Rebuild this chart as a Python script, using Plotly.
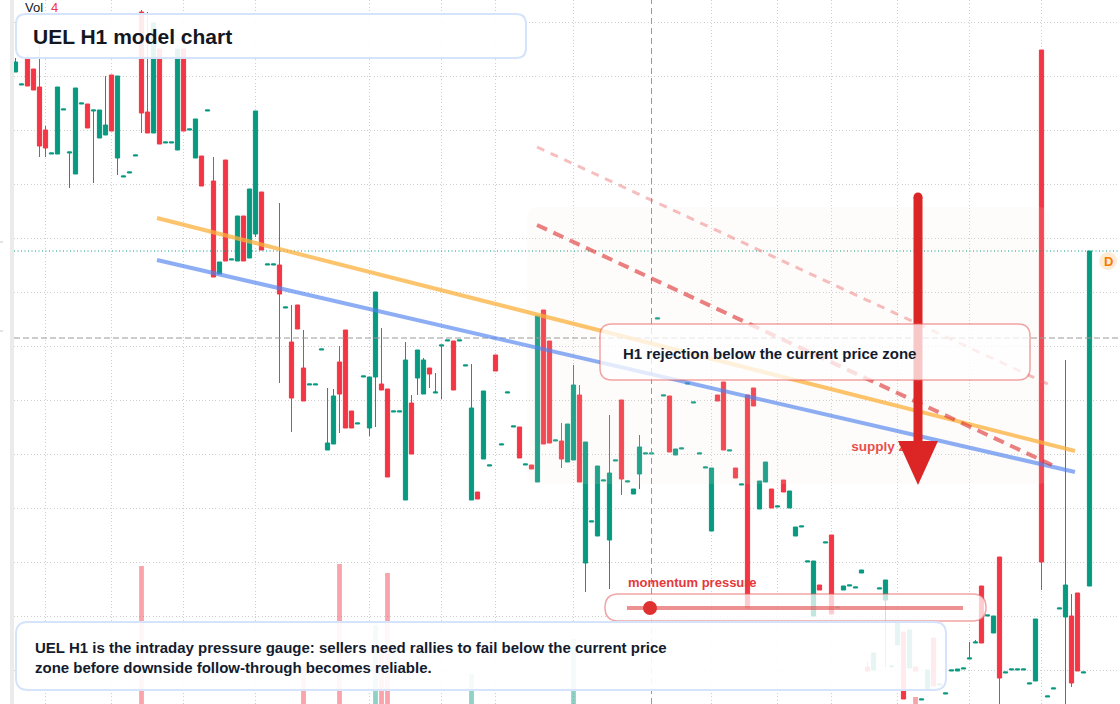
import plotly.graph_objects as go

# ---------------- data ----------------
bar_index = list(range(180))

opens = [
    11.28, 11.15, 11.42, 11.31, 11.13, 10.70, 10.46, 10.46, 10.90, 10.47,
    10.26, 10.96, 10.96, 10.89, 10.62, 10.65, 11.25, 10.42, 10.23, 10.27,
    10.44, 11.88, 10.88, 10.67, 11.51, 10.57, 10.57, 10.50, 11.51, 10.70,
    10.42, 10.44, 10.89, 10.19, 9.26, 10.40, 9.40, 9.39, 9.84, 9.42,
    9.66, 10.08, 9.35, 9.35, 9.35, 8.92, 8.58, 8.95, 8.32, 8.15,
    8.15, 8.50, 7.50, 7.56, 8.38, 8.70, 7.89, 7.76, 8.23, 7.72,
    8.23, 8.16, 8.11, 7.88, 7.88, 7.00, 7.97, 8.22, 8.06, 8.32,
    8.07, 8.54, 8.59, 8.59, 8.59, 8.34, 7.00, 7.08, 7.41, 7.34,
    8.45, 7.55, 8.07, 7.73, 7.73, 7.35, 7.35, 7.18, 8.90, 8.59,
    7.59, 7.59, 7.38, 7.40, 8.05, 6.37, 6.78, 6.64, 7.19, 6.60,
    7.39, 8.00, 7.18, 7.06, 7.26, 7.46, 7.46, 8.81, 8.04, 8.04,
    7.45, 7.51, 8.16, 7.97, 7.46, 7.32, 6.69, 8.05, 8.18, 7.49,
    7.32, 7.15, 8.05, 8.12, 6.91, 7.18, 7.11, 6.93, 7.20, 6.92,
    6.64, 6.73, 6.38, 5.84, 6.15, 6.57, 6.65, 5.92, 6.10, 6.14,
    6.12, 6.27, 5.33, 5.30, 6.11, 6.00, 5.33, 5.55, 5.68, 5.32,
    5.33, 5.00, 5.10, 5.62, 5.15, 5.06, 5.29, 5.29, 5.31, 5.41,
    5.57, 6.14, 5.84, 5.67, 6.43, 5.27, 5.30, 5.30, 5.30, 5.16,
    5.19, 11.50, 5.03, 5.11, 5.91, 5.83, 5.84, 6.07, 5.27, 6.14,
]
highs = [
    11.42, 11.16, 11.45, 11.31, 11.58, 10.74, 10.47, 11.13, 10.91, 10.48,
    11.12, 10.97, 10.96, 10.90, 10.90, 11.24, 11.25, 11.24, 10.24, 10.28,
    10.45, 11.90, 11.88, 11.77, 11.51, 10.58, 10.58, 11.51, 11.51, 10.71,
    10.81, 10.44, 10.90, 10.43, 9.38, 10.40, 9.41, 9.84, 9.84, 10.11,
    10.89, 10.08, 9.36, 9.36, 9.97, 8.93, 8.95, 8.95, 8.70, 8.16,
    8.16, 8.51, 8.12, 8.11, 8.54, 8.70, 7.89, 7.77, 8.24, 8.23,
    9.08, 8.72, 8.11, 7.89, 7.89, 8.58, 8.05, 8.50, 8.42, 8.32,
    8.27, 8.55, 8.60, 8.59, 8.60, 8.35, 8.36, 7.08, 8.09, 7.35,
    8.45, 7.56, 8.08, 7.74, 7.73, 7.36, 7.35, 8.84, 8.90, 8.59,
    7.60, 7.77, 7.76, 8.35, 8.15, 7.58, 6.79, 7.34, 7.20, 7.85,
    7.40, 8.00, 7.19, 7.11, 7.65, 7.47, 7.47, 8.82, 8.05, 8.04,
    7.51, 7.52, 8.17, 7.98, 7.47, 7.33, 7.32, 8.05, 8.18, 7.50,
    7.32, 7.16, 8.05, 8.12, 7.19, 7.38, 7.11, 6.94, 7.20, 7.09,
    6.73, 6.74, 6.39, 6.39, 6.15, 6.58, 6.65, 5.93, 6.14, 6.15,
    6.13, 6.30, 5.38, 5.47, 6.12, 6.20, 5.34, 5.77, 5.68, 5.70,
    5.33, 5.01, 5.30, 5.62, 5.16, 5.07, 5.30, 5.31, 5.32, 5.58,
    5.60, 6.14, 5.85, 5.84, 6.43, 5.28, 5.31, 5.31, 5.31, 5.17,
    5.81, 11.50, 5.04, 5.12, 5.92, 8.40, 6.06, 6.07, 5.28, 9.49,
]
lows = [
    11.28, 11.15, 11.14, 11.10, 10.43, 10.43, 10.46, 10.46, 10.90, 10.12,
    10.26, 10.96, 10.72, 10.17, 10.62, 10.65, 10.69, 10.25, 10.23, 10.27,
    10.44, 10.67, 10.67, 10.67, 10.56, 10.57, 10.57, 10.50, 10.69, 10.70,
    10.42, 10.14, 10.89, 9.23, 9.26, 9.39, 9.40, 9.39, 9.39, 9.42,
    9.63, 9.50, 9.35, 9.35, 8.17, 8.92, 7.68, 8.71, 7.99, 8.15,
    8.15, 8.50, 7.50, 7.56, 7.67, 7.72, 7.72, 7.76, 8.23, 7.64,
    7.73, 8.10, 7.23, 7.88, 7.88, 7.00, 7.46, 8.05, 8.06, 8.12,
    8.07, 8.01, 8.59, 8.10, 8.59, 8.34, 7.00, 7.01, 7.41, 7.34,
    8.29, 7.55, 8.07, 7.73, 7.42, 7.35, 7.31, 7.18, 7.56, 7.57,
    7.59, 7.32, 7.38, 7.40, 7.18, 6.08, 6.78, 6.64, 7.19, 6.11,
    7.39, 7.05, 7.18, 7.06, 7.11, 7.46, 7.46, 8.81, 8.04, 7.48,
    7.45, 7.51, 8.16, 7.97, 7.46, 7.32, 6.69, 7.99, 7.50, 7.49,
    7.22, 7.15, 5.92, 7.94, 6.91, 7.18, 6.92, 6.93, 7.08, 6.92,
    6.64, 6.73, 6.38, 5.84, 6.10, 6.57, 5.86, 5.92, 6.10, 6.14,
    6.12, 6.27, 5.29, 5.30, 6.11, 5.33, 5.33, 5.55, 5.01, 5.32,
    5.29, 5.00, 5.10, 5.14, 5.15, 5.06, 5.29, 5.29, 5.31, 5.41,
    5.57, 5.57, 5.84, 5.67, 4.96, 5.27, 5.30, 5.30, 5.30, 5.16,
    5.19, 6.10, 5.03, 5.11, 5.91, 4.96, 5.13, 5.29, 5.27, 6.14,
]
closes = [
    11.38, 11.16, 11.14, 11.10, 10.54, 10.52, 10.47, 11.13, 10.91, 10.48,
    11.12, 10.97, 10.72, 10.90, 10.90, 10.75, 10.69, 11.24, 10.24, 10.28,
    10.45, 10.87, 10.67, 11.77, 10.56, 10.58, 10.58, 11.51, 10.69, 10.71,
    10.81, 10.14, 10.90, 9.23, 9.38, 9.39, 9.41, 9.84, 9.39, 10.11,
    10.89, 9.50, 9.36, 9.36, 9.06, 8.93, 8.02, 8.71, 7.99, 8.16,
    8.16, 8.51, 7.57, 8.04, 8.06, 7.72, 7.72, 7.77, 8.24, 8.23,
    9.08, 8.10, 7.23, 7.89, 7.89, 8.40, 7.46, 8.50, 8.40, 8.26,
    8.08, 8.55, 8.60, 8.10, 8.60, 8.35, 7.92, 7.01, 8.09, 7.35,
    8.29, 7.56, 8.08, 7.74, 7.42, 7.36, 7.31, 8.84, 7.56, 7.57,
    7.60, 7.41, 7.76, 8.15, 7.18, 7.58, 6.79, 7.34, 7.20, 7.27,
    7.40, 7.21, 7.19, 7.11, 7.53, 7.47, 7.47, 8.82, 8.05, 7.48,
    7.51, 7.52, 8.17, 7.98, 7.47, 7.33, 7.32, 7.99, 7.50, 7.50,
    7.22, 7.16, 5.92, 7.94, 7.19, 7.38, 6.92, 6.94, 7.08, 7.09,
    6.73, 6.74, 6.39, 6.39, 6.10, 6.58, 5.86, 5.93, 6.14, 6.15,
    6.13, 6.30, 5.29, 5.47, 6.12, 6.20, 5.34, 5.77, 5.01, 5.70,
    5.29, 5.01, 5.30, 5.14, 5.16, 5.07, 5.30, 5.31, 5.32, 5.42,
    5.58, 5.57, 5.85, 5.84, 5.22, 5.28, 5.31, 5.31, 5.31, 5.17,
    5.81, 6.38, 5.04, 5.12, 5.92, 6.15, 5.17, 5.29, 5.28, 9.49,
]

volume_bars = [21, 48, 54, 60, 61, 62, 76, 93, 150]
volume_k = [138, 40, 140, 79, 50, 131, 30, 65, 7]

session_starts = [5, 16, 28, 40, 59, 71, 80, 93, 116, 127, 136, 147, 159, 171]

last_price = 9.49
crosshair_bar = 106
crosshair_price = 8.62

orange_trend = [(23.58, 9.82), (176.58, 7.49)]
blue_trend = [(23.58, 9.40), (176.58, 7.28)]
upper_dash = [(86.92, 10.53), (172.75, 8.14)]
lower_dash = [(86.92, 9.75), (172.75, 7.35)]
supply_zone = dict(x0=85.25, x1=172.42, top=9.93, bottom=7.16)

# ---------------- styling ----------------
GREEN = "#089981"
RED = "#f23645"
FONT = "Liberation Sans, Arial, sans-serif"
INK = "#131c2e"
W, H = 1120, 704
LM = 14
PW = W - LM


def px(x):
    return (x - LM) / PW


def py(y):
    return 1 - y / H


def rounded(x0, x1, ytop, ybot, rx, ry):
    return (f"M {x0+rx},{ytop} L {x1-rx},{ytop} Q {x1},{ytop} {x1},{ytop-ry} "
            f"L {x1},{ybot+ry} Q {x1},{ybot} {x1-rx},{ybot} L {x0+rx},{ybot} "
            f"Q {x0},{ybot} {x0},{ybot+ry} L {x0},{ytop-ry} Q {x0},{ytop} {x0+rx},{ytop} Z")


def box_px(x0, y0, x1, y1, r):
    return rounded(px(x0), px(x1), py(y0), py(y1), r / PW, r / H)


fig = go.Figure()

vol_colors = []
for b in volume_bars:
    up = closes[b] >= opens[b]
    vol_colors.append("rgba(8,153,129,0.45)" if up else "rgba(242,54,69,0.45)")

fig.add_trace(go.Bar(x=volume_bars, y=volume_k, yaxis="y2", width=0.8,
                     marker=dict(color=vol_colors, line=dict(width=0)),
                     hoverinfo="skip", showlegend=False))

fig.add_trace(go.Candlestick(
    x=bar_index, open=opens, high=highs, low=lows, close=closes,
    increasing=dict(line=dict(color=GREEN, width=1), fillcolor=GREEN),
    decreasing=dict(line=dict(color=RED, width=1), fillcolor=RED),
    whiskerwidth=0, hoverinfo="skip", showlegend=False))

fig.add_trace(go.Scatter(
    x=[139.3], y=[7.52], mode="text", text=["<b>supply zone</b>"],
    textposition="middle right",
    textfont=dict(family=FONT, size=13.5, color="#e5393b"),
    hoverinfo="skip", showlegend=False))

shapes = []
# supply zone
sz = supply_zone
shapes.append(dict(type="path", xref="x", yref="y", layer="above",
                   path=rounded(sz["x0"], sz["x1"], sz["top"], sz["bottom"], 2.0, 0.12),
                   fillcolor="rgba(250,232,215,0.12)", line=dict(width=0)))
# last price line
shapes.append(dict(type="line", xref="paper", yref="y", x0=0, x1=1,
                   y0=last_price, y1=last_price, layer="above",
                   line=dict(color=GREEN, width=1, dash="1px,2.5px")))
# crosshair
shapes.append(dict(type="line", xref="paper", yref="y", x0=0, x1=1,
                   y0=crosshair_price, y1=crosshair_price, layer="above",
                   line=dict(color="#9a9a9a", width=1, dash="6px,3px")))
shapes.append(dict(type="line", xref="x", yref="paper", x0=crosshair_bar, x1=crosshair_bar,
                   y0=0, y1=1, layer="above",
                   line=dict(color="#9a9a9a", width=1, dash="6px,4px")))
# trend lines
for pts, col, wdt, dash in [
    (orange_trend, "rgba(251,176,59,0.75)", 4, "solid"),
    (blue_trend, "rgba(80,130,240,0.65)", 4, "solid"),
    (upper_dash, "rgba(235,100,100,0.42)", 3, "8px,7px"),
    (lower_dash, "rgba(220,50,50,0.62)", 4, "11px,7px"),
]:
    shapes.append(dict(type="line", xref="x", yref="y", layer="above",
                       x0=pts[0][0], y0=pts[0][1], x1=pts[1][0], y1=pts[1][1],
                       line=dict(color=col, width=wdt, dash=dash)))
# arrow
ARROW = "#dc2626"
shapes.append(dict(type="line", xref="paper", yref="paper", layer="above",
                   x0=px(918), x1=px(918), y0=py(197), y1=py(444),
                   line=dict(color=ARROW, width=9)))
shapes.append(dict(type="circle", xref="paper", yref="paper", layer="above",
                   x0=px(913.5), x1=px(922.5), y0=py(192.5), y1=py(201.5),
                   fillcolor=ARROW, line=dict(width=0)))
shapes.append(dict(type="path", xref="paper", yref="paper", layer="above",
                   path=f"M {px(898)},{py(441)} L {px(938)},{py(441)} L {px(918)},{py(485)} Z",
                   fillcolor=ARROW, line=dict(width=0)))
# callout box
shapes.append(dict(type="path", xref="paper", yref="paper", layer="above",
                   path=box_px(600, 324, 1030, 380, 12),
                   fillcolor="rgba(255,255,255,0.75)",
                   line=dict(color="rgba(232,90,90,0.55)", width=1.5)))
# gauge
shapes.append(dict(type="path", xref="paper", yref="paper", layer="above",
                   path=box_px(605, 594, 986, 621, 13.5),
                   fillcolor="rgba(255,255,255,0.75)",
                   line=dict(color="rgba(232,90,90,0.55)", width=1.5)))
shapes.append(dict(type="line", xref="paper", yref="paper", layer="above",
                   x0=px(627), x1=px(963), y0=py(608), y1=py(608),
                   line=dict(color="rgba(225,70,70,0.6)", width=4)))
shapes.append(dict(type="circle", xref="paper", yref="paper", layer="above",
                   x0=px(643), x1=px(657), y0=py(601), y1=py(615),
                   fillcolor="#e03131", line=dict(width=0)))
# title box & bottom box
shapes.append(dict(type="path", xref="paper", yref="paper", layer="above",
                   path=box_px(16, 14, 526, 58, 10),
                   fillcolor="rgba(255,255,255,0.9)",
                   line=dict(color="#d6e4fb", width=2)))
shapes.append(dict(type="path", xref="paper", yref="paper", layer="above",
                   path=box_px(16, 622, 946, 690, 12),
                   fillcolor="rgba(255,255,255,0.9)",
                   line=dict(color="#d6e4fb", width=2)))
# D badge
shapes.append(dict(type="circle", xref="paper", yref="paper", layer="above",
                   x0=px(1099), x1=px(1117), y0=py(252), y1=py(270),
                   fillcolor="#fdebd6", line=dict(width=0)))
# left strip and clipped price-scale ticks
shapes.append(dict(type="rect", xref="paper", yref="paper", layer="above",
                   x0=px(10), x1=px(14), y0=0, y1=1,
                   fillcolor="#ebebeb", line=dict(width=0)))
for ty in (242, 331):
    shapes.append(dict(type="line", xref="paper", yref="paper", layer="above",
                       x0=px(0), x1=px(3), y0=py(ty), y1=py(ty),
                       line=dict(color="#c8c8c8", width=1)))

annotations = [
    dict(x=px(23), y=py(8), text="Vol", font=dict(family=FONT, size=13, color="#131722")),
    dict(x=px(49), y=py(8), text="4", font=dict(family=FONT, size=13, color=RED)),
    dict(x=px(31), y=py(36), text="<b>UEL H1 model chart</b>",
         font=dict(family=FONT, size=21, color="#131722")),
    dict(x=px(621), y=py(353), text="<b>H1 rejection below the current price zone</b>",
         font=dict(family=FONT, size=15, color=INK)),
    dict(x=px(626), y=py(582), text="<b>momentum pressure</b>",
         font=dict(family=FONT, size=13, color="#e5393b")),
    dict(x=px(33), y=py(657),
         text="<b>UEL H1 is the intraday pressure gauge: sellers need rallies to fail below the current price"
              "<br>zone before downside follow-through becomes reliable.</b>",
         align="left", font=dict(family=FONT, size=15, color=INK)),
    dict(x=px(1108), y=py(261), xanchor="center", text="<b>D</b>",
         font=dict(family=FONT, size=13, color="#f57c00")),
]
for a in annotations:
    a.setdefault("xref", "paper")
    a.setdefault("yref", "paper")
    a.setdefault("xanchor", "left")
    a.setdefault("yanchor", "middle")
    a["showarrow"] = False

GRID = "#cfcfcf"
fig.update_layout(
    width=W, height=H,
    margin=dict(l=LM, r=0, t=0, b=0),
    paper_bgcolor="white", plot_bgcolor="white",
    showlegend=False, hovermode=False,
    boxgap=0.3, boxgroupgap=0,
    xaxis=dict(range=[-0.25, 184.0833], tickvals=session_starts, showticklabels=False,
               showgrid=True, gridcolor=GRID, griddash="1px,2.3px", gridwidth=1,
               zeroline=False, showline=False, ticks="",
               rangeslider=dict(visible=False), fixedrange=True),
    yaxis=dict(range=[4.96, 12.0], tick0=5.30, dtick=0.54, showticklabels=False,
               showgrid=True, gridcolor=GRID, griddash="1px,2.3px", gridwidth=1,
               zeroline=False, showline=False, ticks="", fixedrange=True),
    yaxis2=dict(range=[0, 704], overlaying="y", visible=False, fixedrange=True),
    shapes=shapes, annotations=annotations,
)

fig.write_html("out.html", config={"displayModeBar": False},
               post_script="document.body.style.margin='0px';")
